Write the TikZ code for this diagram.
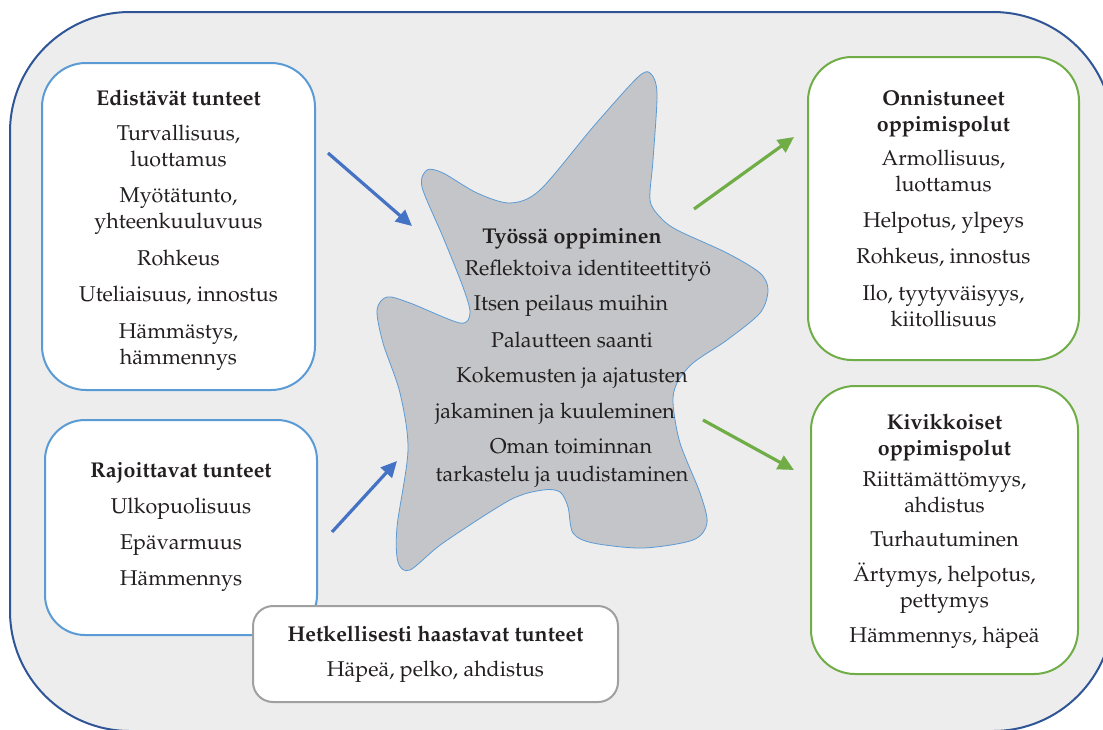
\documentclass[tikz,border=0pt]{standalone}
\usepackage[T1]{fontenc}
\usepackage{mathpazo}
\usetikzlibrary{arrows.meta}
\definecolor{outerfill}{RGB}{237,237,237}
\definecolor{outerline}{RGB}{47,85,151}
\definecolor{lblue}{RGB}{91,155,213}
\definecolor{dblue}{RGB}{68,114,196}
\definecolor{lgreen}{RGB}{112,173,71}
\definecolor{boxgray}{RGB}{160,160,160}
\definecolor{starfill}{RGB}{196,197,200}
\definecolor{txt}{RGB}{35,31,32}
\tikzset{
  box/.style={draw, line width=2pt, fill=white, rounded corners=44pt, inner sep=0pt, align=center, text=txt},
  bluebox/.style={box, draw=lblue},
  greenbox/.style={box, draw=lgreen},
  graybox/.style={box, draw=boxgray, rounded corners=20pt},
  flowblue/.style={line width=3.2pt, draw=dblue, -{Triangle[length=16pt,width=15pt]}},
  flowgreen/.style={line width=3.2pt, draw=lgreen, -{Triangle[length=16pt,width=15pt]}},
  startxt/.style={text=txt, inner sep=0pt, anchor=base}
}
\begin{document}
\begin{tikzpicture}[x=1pt,y=-1pt,font=\fontsize{21.4}{26}\selectfont]
\fill[white] (0,0) rectangle (1103,729);
\useasboundingbox (0,0) rectangle (1103,729);
\begin{scope}
\clip (0,0) rectangle (1103,729);
\draw[outerline, fill=outerfill, line width=2pt, rounded corners=120pt] (10,12) rectangle (1113,731);
\end{scope}

% star shape
\draw[draw=lblue, line width=0.8pt, fill=starfill] plot[smooth cycle, tension=0.5] coordinates {
(650,73) (657,93) (653,160) (650,200) (660,217) (677,230)
(727,253) (760,273) (768,290) (760,313) (727,340) (693,363) (677,383) (673,403)
(680,443) (700,493) (707,523) (693,540) (643,548) (593,543) (573,533) (568,507)
(560,492) (543,490) (510,500) (443,543) (410,570) (398,562) (397,527) (408,450)
(400,393) (383,343) (377,310) (387,297) (410,303) (460,323) (470,313) (463,287)
(443,237) (422,187) (427,170) (443,173) (477,193) (510,203) (540,190) (593,127) (637,78)};

\node[startxt] (s1) at (572,243) {\textbf{Työssä oppiminen}};
\node[startxt] (s2) at (588,275) {Reflektoiva identiteettityö};
\node[startxt] (s3) at (571,310) {Itsen peilaus muihin};
\node[startxt] (s4) at (572,347) {Palautteen saanti};
\node[startxt] (s5) at (572,382) {Kokemusten ja ajatusten};
\node[startxt] (s6) at (555,418) {jakaminen ja kuuleminen};
\node[startxt] (s7) at (571,453) {Oman toiminnan};
\node[startxt] (s8) at (562,481) {tarkastelu ja uudistaminen};

% boxes
\node[bluebox, minimum width=273pt, minimum height=327pt] (edis) at (178.5,226.5)
 {\rule{0pt}{23pt}\textbf{Edistävät tunteet}\\[9pt] Turvallisuus,\\ luottamus\\[10pt] Myötätunto,\\ yhteenkuuluvuus\\[11pt] Rohkeus\\[10pt] Uteliaisuus, innostus\\[11pt] Hämmästys,\\ hämmennys};
\node[bluebox, rounded corners=40pt, minimum width=272pt, minimum height=215pt] (rajo) at (181,527.5)
 {\textbf{Rajoittavat tunteet}\\[10pt] Ulkopuolisuus\\[10pt] Epävarmuus\\[10pt] Hämmennys};
\node[graybox, minimum width=365pt, minimum height=96pt] (hetk) at (435.5,654)
 {\textbf{Hetkellisesti haastavat tunteet}\\[9pt] Häpeä, pelko, ahdistus};
\node[greenbox, minimum width=271pt, minimum height=303pt] (onni) at (943.5,208.5)
 {\textbf{Onnistuneet}\\ \textbf{oppimispolut}\\[8pt] Armollisuus,\\ luottamus\\[10pt] Helpotus, ylpeys\\[10pt] Rohkeus, innostus\\[11pt] Ilo, tyytyväisyys,\\ kiitollisuus};
\node[greenbox, minimum width=267pt, minimum height=288pt] (kivi) at (944.5,530)
 {\rule{0pt}{18pt}\textbf{Kivikkoiset}\\ \textbf{oppimispolut}\\[5pt] Riittämättömyys,\\ ahdistus\\[8pt] Turhautuminen\\[9pt] Ärtymys, helpotus,\\ pettymys\\[9pt] Hämmennys, häpeä};

% arrows
\coordinate (a1s) at (328,153); \coordinate (a1e) at (412,226);
\coordinate (a2s) at (332,532); \coordinate (a2e) at (397,461);
\coordinate (g1s) at (694,209); \coordinate (g1e) at (794,137);
\coordinate (g2s) at (703,420); \coordinate (g2e) at (794,470);
\draw[flowblue] (a1s) -- (a1e);
\draw[flowblue] (a2s) -- (a2e);
\draw[flowgreen] (g1s) -- (g1e);
\draw[flowgreen] (g2s) -- (g2e);
\end{tikzpicture}
\end{document}
